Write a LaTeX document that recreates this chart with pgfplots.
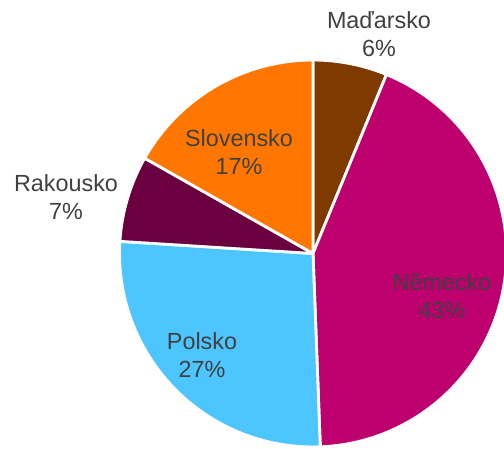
\documentclass[border=0pt]{standalone}
\usepackage{fontspec}
\setmainfont{Liberation Sans}
\usepackage{pgfplots}
\usepackage{pgfplotstable}
\pgfplotsset{compat=1.18}

\definecolor{cHu}{HTML}{7F3A00}
\definecolor{cDe}{HTML}{BE006E}
\definecolor{cPl}{HTML}{4DC5FF}
\definecolor{cAt}{HTML}{6B0040}
\definecolor{cSk}{HTML}{FF7700}
\definecolor{lbl}{HTML}{404040}
\newcommand{\labelfont}{\fontsize{13.3pt}{15.9pt}\selectfont}

% share in %, label centre in px (y up), slice colour
\pgfplotstableread{
name      value lx  ly    col
Maďarsko  6.2   379 414.5 cHu
Německo   43.2  442 153   cDe
Polsko    26.6  202 94    cPl
Rakousko  7.2   66  252   cAt
Slovensko 16.8  239 297   cSk
}\piedata

\begin{document}
\begin{tikzpicture}
% running angles, clockwise from 12 o'clock
\def\runangle{90}
\pgfplotsforeachungrouped \i in {0,...,4}{%
  \pgfplotstablegetelem{\i}{value}\of\piedata
  \pgfmathsetmacro\endangle{\runangle-3.6*\pgfplotsretval}%
  \pgfmathtruncatemacro\pctround{round(\pgfplotsretval)}%
  \expandafter\xdef\csname pieS\i\endcsname{\runangle}%
  \expandafter\xdef\csname pieE\i\endcsname{\endangle}%
  \expandafter\xdef\csname pieP\i\endcsname{\pctround}%
  \pgfplotstablegetelem{\i}{name}\of\piedata
  \expandafter\xdef\csname pieN\i\endcsname{\pgfplotsretval}%
  \pgfplotstablegetelem{\i}{lx}\of\piedata
  \expandafter\xdef\csname pieX\i\endcsname{\pgfplotsretval}%
  \pgfplotstablegetelem{\i}{ly}\of\piedata
  \expandafter\xdef\csname pieY\i\endcsname{\pgfplotsretval}%
  \pgfplotstablegetelem{\i}{col}\of\piedata
  \colorlet{pie\i}{\pgfplotsretval}%
  \xdef\runangle{\endangle}%
}
\begin{axis}[x=0.02cm,y=0.02cm,xmin=0,xmax=504,ymin=0,ymax=449,
  hide axis,clip=true]
\coordinate (bl) at (axis cs:0,0);
\coordinate (tr) at (axis cs:504,449);
\pgfplotsinvokeforeach{0,...,4}{
  \filldraw[fill=pie#1,draw=white,line width=1.6pt,line join=round]
    (axis cs:313,195.5) -- ++(\csname pieS#1\endcsname:3.87cm)
    arc[start angle=\csname pieS#1\endcsname,end angle=\csname pieE#1\endcsname,radius=3.87cm]
    -- cycle;
}
\pgfplotsinvokeforeach{0,...,4}{
  \node[align=center,text=lbl,font=\labelfont,inner sep=0pt]
    at (axis cs:\csname pieX#1\endcsname,\csname pieY#1\endcsname)
    {\csname pieN#1\endcsname\\\csname pieP#1\endcsname\%};
}
\end{axis}
\pgfresetboundingbox
\useasboundingbox (bl) rectangle (tr);
\end{tikzpicture}
\end{document}
